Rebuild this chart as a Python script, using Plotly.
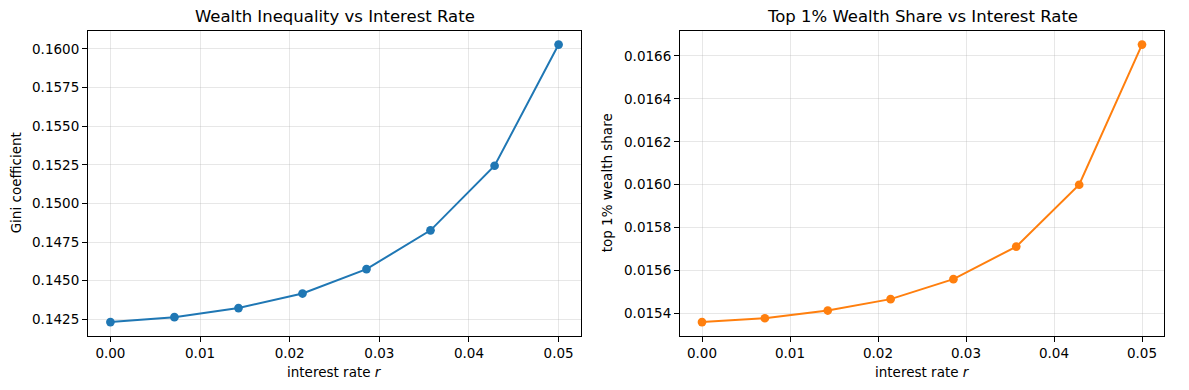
import plotly.graph_objects as go

# ---- data ----
interest_rate = [0.0, 0.00714, 0.01429, 0.02143, 0.02857, 0.03571, 0.04286, 0.05]
gini = [0.14232, 0.14264, 0.14323, 0.14417, 0.14575, 0.14826, 0.15244, 0.16028]
top1_share = [0.015360, 0.015378, 0.015414, 0.015467, 0.015560, 0.015712, 0.016000, 0.016653]

titles = ["Wealth Inequality vs Interest Rate", "Top 1% Wealth Share vs Interest Rate"]
ylabels = ["Gini coefficient", "top 1% wealth share"]
xlabel = "interest rate <i>r</i>"

W, H = 1189, 390
FONT = "DejaVu Sans"
BLUE = "#1f77b4"
ORANGE = "#ff7f0e"


def pad_range(vals, frac=0.05):
    lo, hi = min(vals), max(vals)
    span = hi - lo
    return [lo - frac * span, hi + frac * span]


fig = go.Figure()
fig.add_trace(go.Scatter(x=interest_rate, y=gini, mode="lines+markers",
                         line=dict(color=BLUE, width=2),
                         marker=dict(color=BLUE, size=8.7),
                         xaxis="x", yaxis="y", showlegend=False))
fig.add_trace(go.Scatter(x=interest_rate, y=top1_share, mode="lines+markers",
                         line=dict(color=ORANGE, width=2),
                         marker=dict(color=ORANGE, size=8.7),
                         xaxis="x2", yaxis="y2", showlegend=False))

x_dom1 = [88 / W, 581 / W]
x_dom2 = [680 / W, 1164 / W]
y_dom = [1 - 336 / H, 1 - 30.7 / H]

common = dict(showline=True, linecolor="black", linewidth=1.1, mirror=True,
              ticks="outside", ticklen=5, tickwidth=1.1, tickcolor="black",
              showgrid=True, gridcolor="rgba(176,176,176,0.3)", gridwidth=1,
              zeroline=False, tickfont=dict(family=FONT, size=13.5, color="black"))

fig.update_layout(
    width=W, height=H,
    margin=dict(l=0, r=0, t=0, b=0),
    paper_bgcolor="white", plot_bgcolor="white",
    font=dict(family=FONT, color="black"),
    xaxis=dict(domain=x_dom1, anchor="y", range=pad_range(interest_rate),
               dtick=0.01, tick0=0, tickformat=".2f", **common),
    yaxis=dict(domain=y_dom, anchor="x", range=pad_range(gini),
               dtick=0.0025, tick0=0, tickformat=".4f", **common),
    xaxis2=dict(domain=x_dom2, anchor="y2", range=pad_range(interest_rate),
                dtick=0.01, tick0=0, tickformat=".2f", **common),
    yaxis2=dict(domain=y_dom, anchor="x2", range=pad_range(top1_share),
                dtick=0.0002, tick0=0, tickformat=".4f", **common),
)

ann = []
for dom, t, yl, ylx in [(x_dom1, titles[0], ylabels[0], 16), (x_dom2, titles[1], ylabels[1], 607)]:
    cx = (dom[0] + dom[1]) / 2
    ann.append(dict(text=t, x=cx, y=1 - 17 / H, xref="paper", yref="paper",
                    xanchor="center", yanchor="middle", showarrow=False,
                    font=dict(family=FONT, size=16.5, color="black")))
    ann.append(dict(text=xlabel, x=cx, y=1 - 372 / H, xref="paper", yref="paper",
                    xanchor="center", yanchor="middle", showarrow=False,
                    font=dict(family=FONT, size=13.5, color="black")))
    ann.append(dict(text=yl, x=ylx / W, y=(y_dom[0] + y_dom[1]) / 2, xref="paper", yref="paper",
                    xanchor="center", yanchor="middle", showarrow=False, textangle=-90,
                    font=dict(family=FONT, size=13.5, color="black")))
fig.update_layout(annotations=ann)

fig.write_html("out.html",
               config={"displayModeBar": False},
               post_script="document.body.style.margin='0px';document.body.style.overflow='hidden';")
